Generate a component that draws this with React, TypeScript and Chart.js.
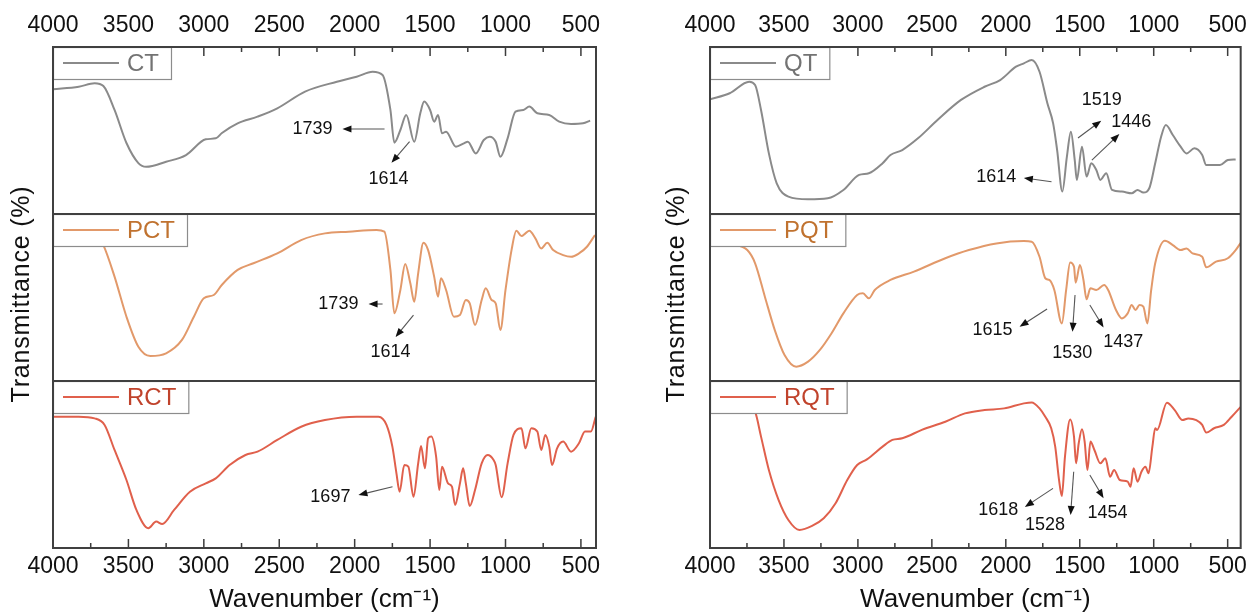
import React, { useEffect, useRef } from "react";
import { Chart, registerables } from "chart.js";

Chart.register(...registerables);

const FONT = '"Liberation Sans", Arial, Helvetica, sans-serif';

const xTickLabels = [4000, 3500, 3000, 2500, 2000, 1500, 1000, 500];
const xMinorTicks = [3750, 3250, 2750, 2250, 1750, 1250, 750];
const xAxisTitle = "Wavenumber (cm⁻¹)";
const yAxisTitle = "Transmittance (%)";

// ---- Left panel: CT / PCT / RCT ----
const ctWavenumbers = [4000, 3829, 3724, 3666, 3592, 3513, 3434, 3382, 3250, 3118, 2987, 2921, 2880, 2776, 2644, 2513, 2329, 2118, 1987, 1881, 1815, 1763, 1737, 1697, 1658, 1605, 1565, 1539, 1500, 1473, 1447, 1421, 1394, 1329, 1276, 1250, 1197, 1144, 1105, 1065, 1034, 986, 934, 881, 842, 789, 710, 644, 565, 486, 439];
const ctTransmittance = [74.7, 76.2, 78.3, 76.6, 62.3, 42.5, 30.5, 28.3, 31.3, 35.3, 44.7, 45.3, 48.5, 54.3, 58.3, 63.3, 73.3, 79.2, 82.2, 85.2, 83.2, 62.3, 42.7, 50.3, 59.3, 43.3, 60.3, 67.3, 62.3, 55.3, 59.3, 48.3, 49.3, 40.3, 42.3, 43.3, 36.3, 44.3, 46.3, 43.3, 34.3, 45.3, 61.3, 62.3, 64.3, 60.3, 59.3, 55.3, 53.9, 54.3, 55.9];

const pctWavenumbers = [4000, 3800, 3700, 3666, 3592, 3513, 3434, 3355, 3250, 3145, 3066, 3000, 2934, 2881, 2776, 2671, 2513, 2355, 2197, 2039, 1855, 1803, 1763, 1737, 1697, 1665, 1631, 1605, 1579, 1544, 1513, 1473, 1447, 1428, 1394, 1342, 1302, 1263, 1237, 1202, 1158, 1131, 1092, 1065, 1034, 1000, 960, 928, 894, 868, 842, 802, 763, 723, 684, 618, 565, 513, 460, 407];
const pctTransmittance = [90, 89, 86, 81.4, 62.5, 38.5, 20.5, 15.0, 16.6, 24.6, 38.5, 49.5, 51.5, 57.5, 66.5, 70.5, 76.4, 84.4, 88.4, 89.4, 90.4, 89.4, 66.5, 40.5, 54.5, 70.1, 58.5, 47.5, 64.5, 82.8, 78.4, 62.5, 50.5, 61.5, 54.5, 38.5, 39.5, 48.5, 46.5, 33.5, 48.5, 55.5, 48.5, 46.5, 30.5, 54.5, 78.4, 90.0, 86.8, 88.4, 90.0, 85.4, 79.4, 82.8, 78.4, 75.4, 74.4, 76.4, 80.4, 87.4];

const rctWavenumbers = [4000, 3829, 3724, 3658, 3592, 3513, 3447, 3368, 3316, 3276, 3197, 3092, 2987, 2921, 2829, 2724, 2644, 2513, 2355, 2197, 1987, 1842, 1789, 1750, 1723, 1702, 1671, 1644, 1610, 1579, 1560, 1534, 1513, 1492, 1460, 1439, 1421, 1381, 1355, 1334, 1302, 1281, 1263, 1237, 1202, 1158, 1118, 1079, 1065, 1026, 986, 947, 894, 868, 829, 789, 763, 736, 710, 692, 658, 618, 565, 513, 473, 434, 402];
const rctTransmittance = [78.6, 78.6, 77.6, 73.7, 58.7, 40.7, 22.8, 11.8, 15.8, 14.4, 22.8, 33.7, 38.7, 41.7, 49.7, 55.7, 57.7, 64.7, 72.6, 76.6, 78.6, 78.6, 73.7, 60.7, 44.7, 33.7, 49.7, 48.7, 30.7, 50.7, 61.1, 47.7, 65.7, 66.7, 54.7, 34.7, 48.7, 38.7, 36.7, 25.7, 38.7, 47.7, 38.7, 25.1, 34.7, 50.7, 55.7, 52.7, 49.7, 30.4, 50.7, 67.7, 71.7, 59.7, 71.7, 69.7, 58.7, 67.7, 60.7, 49.7, 59.7, 63.7, 57.7, 62.7, 69.7, 69.7, 78.6];

// ---- Right panel: QT / PQT / RQT ----
const qtWavenumbers = [4000, 3867, 3735, 3695, 3655, 3602, 3549, 3470, 3337, 3204, 3098, 2992, 2926, 2833, 2780, 2700, 2594, 2462, 2303, 2144, 2038, 1931, 1878, 1825, 1772, 1719, 1680, 1653, 1618, 1587, 1560, 1534, 1520, 1485, 1454, 1422, 1388, 1361, 1321, 1282, 1215, 1149, 1109, 1070, 1030, 990, 950, 918, 871, 818, 778, 725, 672, 645, 552, 499, 446];
const qtTransmittance = [68.7, 72.3, 79.2, 77.2, 62.3, 36.3, 18.4, 10.4, 8.8, 9.4, 14.4, 23.4, 24.4, 30.4, 35.3, 38.3, 45.3, 56.3, 68.3, 76.2, 80.2, 88.2, 90.2, 92.2, 85.2, 66.3, 54.3, 38.3, 13.4, 34.3, 49.3, 32.3, 20.4, 40.3, 22.4, 30.4, 26.3, 20.4, 24.4, 14.4, 13.4, 12.4, 14.4, 12.8, 15.4, 30.4, 46.3, 53.3, 47.3, 40.3, 36.3, 39.3, 35.3, 29.3, 29.3, 32.3, 32.7];

const pqtWavenumbers = [4000, 3841, 3748, 3695, 3629, 3562, 3496, 3417, 3337, 3257, 3178, 3098, 3005, 2966, 2926, 2886, 2780, 2621, 2409, 2250, 2064, 1878, 1825, 1772, 1733, 1706, 1672, 1621, 1592, 1565, 1539, 1528, 1499, 1475, 1454, 1428, 1388, 1335, 1308, 1255, 1215, 1176, 1149, 1123, 1096, 1070, 1043, 1017, 990, 924, 871, 818, 778, 738, 672, 645, 579, 499, 446, 407];
const pqtTransmittance = [82.4, 81.4, 78.4, 70.5, 50.5, 30.5, 15.6, 8.6, 11.6, 18.6, 28.6, 40.5, 51.5, 52.5, 49.5, 54.5, 60.5, 65.5, 73.5, 78.4, 82.4, 83.8, 83.4, 74.4, 61.5, 60.5, 54.5, 34.5, 54.5, 70.9, 68.5, 58.9, 69.5, 60.5, 48.9, 55.5, 54.5, 57.5, 54.5, 42.5, 37.5, 40.5, 45.5, 42.5, 45.5, 44.5, 34.5, 54.5, 70.5, 84.0, 81.4, 78.4, 79.4, 76.4, 74.4, 68.1, 71.5, 73.5, 78.4, 83.4];

const rqtWavenumbers = [4000, 3735, 3695, 3655, 3602, 3536, 3470, 3395, 3310, 3231, 3151, 3072, 3005, 2939, 2833, 2767, 2700, 2568, 2409, 2276, 2144, 2011, 1878, 1825, 1772, 1733, 1693, 1666, 1640, 1621, 1600, 1565, 1539, 1525, 1507, 1485, 1467, 1448, 1428, 1401, 1361, 1327, 1295, 1268, 1229, 1176, 1157, 1136, 1109, 1083, 1056, 1035, 1009, 990, 977, 911, 858, 806, 766, 712, 672, 645, 592, 526, 473, 407];
const rqtTransmittance = [85.6, 84.6, 81.6, 66.7, 46.7, 28.7, 16.8, 10.8, 13.2, 17.8, 26.8, 40.7, 49.7, 53.1, 60.7, 64.7, 65.7, 70.7, 75.6, 80.6, 82.6, 83.6, 86.6, 87.2, 83.6, 78.6, 71.7, 60.7, 40.7, 31.1, 54.7, 77.0, 66.7, 50.7, 62.7, 71.1, 63.7, 46.7, 63.7, 58.7, 50.7, 53.7, 42.7, 46.7, 40.7, 39.7, 36.7, 47.7, 39.7, 45.7, 48.7, 44.7, 60.7, 71.7, 70.7, 87.0, 82.6, 76.6, 77.6, 76.6, 73.7, 69.1, 71.7, 73.7, 78.6, 85.0];

// Peak notes: [label, labelWavenumber, labelValue, tailWavenumber, tailValue, headWavenumber, headValue]
type Note = [string, number, number, number, number, number, number];
const ctNotes: Note[] = [
  ["1739", 2280, 50.9, 1802, 50.9, 2081, 50.9],
  ["1614", 1776, 21, 1636, 43.3, 1756, 30.7],
];
const pctNotes: Note[] = [
  ["1739", 2108, 46.1, 1815, 46.1, 1908, 46.1],
  ["1614", 1762, 17.4, 1610, 39.5, 1729, 26.3],
];
const rctNotes: Note[] = [["1697", 2161, 30.7, 1749, 36.7, 1975, 31.7]];
const qtNotes: Note[] = [
  ["1614", 2064, 22.3, 1691, 19.3, 1878, 21.6],
  ["1519", 1352, 68.3, 1512, 45.5, 1355, 55.9],
  ["1446", 1152, 55.3, 1418, 32.3, 1232, 47.9],
];
const pqtNotes: Note[] = [
  ["1615", 2090, 30.5, 1721, 43.1, 1907, 32.5],
  ["1530", 1551, 16.8, 1532, 51.5, 1549, 29.5],
  ["1437", 1206, 23.5, 1432, 45.5, 1339, 32.1],
];
const rqtNotes: Note[] = [
  ["1618", 2051, 22.8, 1681, 35.7, 1871, 24.6],
  ["1528", 1735, 13.8, 1541, 45.7, 1562, 19.8],
  ["1454", 1312, 21.1, 1432, 43.7, 1339, 29.8],
];

const Y_IDS = ["yTop", "yMid", "yBot"];

interface PanelCfg {
  names: string[];
  wavenumbers: number[][];
  values: number[][];
  notes: Note[][];
  lineColors: string[];
  textColors: string[];
  xMin: number;
  yWidth: number;
  padRight: number;
  titleX: number;
  width: number;
}

const LINE_COLORS = ["#8a8a8a", "#e2996a", "#e0604c"];
const TEXT_COLORS = ["#737373", "#c0722f", "#c0432c"];

const leftCfg: PanelCfg = {
  names: ["CT", "PCT", "RCT"],
  wavenumbers: [ctWavenumbers, pctWavenumbers, rctWavenumbers],
  values: [ctTransmittance, pctTransmittance, rctTransmittance],
  notes: [ctNotes, pctNotes, rctNotes],
  lineColors: LINE_COLORS,
  textColors: TEXT_COLORS,
  xMin: 400,
  yWidth: 53,
  padRight: 31,
  titleX: 22,
  width: 627,
};

const rightCfg: PanelCfg = {
  names: ["QT", "PQT", "RQT"],
  wavenumbers: [qtWavenumbers, pqtWavenumbers, rqtWavenumbers],
  values: [qtTransmittance, pqtTransmittance, rqtTransmittance],
  notes: [qtNotes, pqtNotes, rqtNotes],
  lineColors: LINE_COLORS,
  textColors: TEXT_COLORS,
  xMin: 412,
  yWidth: 83,
  padRight: 6,
  titleX: 50,
  width: 628,
};

function decorPlugin(cfg: PanelCfg) {
  return {
    id: "decor",
    afterDraw(chart: any) {
      const ctx: CanvasRenderingContext2D = chart.ctx;
      const { left, right, top, bottom } = chart.chartArea;
      const xs = chart.scales.x;
      ctx.save();

      // inward ticks on top and bottom frame edges
      ctx.strokeStyle = "#3c3c3c";
      ctx.lineWidth = 1.5;
      const tick = (v: number, len: number) => {
        const px = xs.getPixelForValue(v);
        if (px < left - 1 || px > right + 1) return;
        ctx.beginPath();
        ctx.moveTo(px, top);
        ctx.lineTo(px, top + len);
        ctx.moveTo(px, bottom);
        ctx.lineTo(px, bottom - len);
        ctx.stroke();
      };
      xTickLabels.forEach((v) => tick(v, 9));
      xMinorTicks.forEach((v) => tick(v, 5));

      // legends (one per stacked subplot)
      ctx.font = `24px ${FONT}`;
      ctx.textBaseline = "middle";
      ctx.textAlign = "left";
      Y_IDS.forEach((id, i) => {
        const ys = chart.scales[id];
        const x0 = left;
        const y0 = ys.top;
        const h = 32;
        const tw = ctx.measureText(cfg.names[i]).width;
        const w = 74 + tw + 12;
        ctx.fillStyle = "#ffffff";
        ctx.fillRect(x0, y0, w, h);
        ctx.strokeStyle = "#8c8c8c";
        ctx.lineWidth = 1.2;
        ctx.strokeRect(x0 + 0.5, y0 + 0.5, w, h);
        ctx.strokeStyle = cfg.lineColors[i];
        ctx.lineWidth = 2;
        ctx.beginPath();
        ctx.moveTo(x0 + 10, y0 + h / 2);
        ctx.lineTo(x0 + 66, y0 + h / 2);
        ctx.stroke();
        ctx.fillStyle = cfg.textColors[i];
        ctx.fillText(cfg.names[i], x0 + 74, y0 + h / 2 + 1);
      });

      // frame and separators
      ctx.strokeStyle = "#404040";
      ctx.lineWidth = 2;
      ctx.strokeRect(left, top, right - left, bottom - top);
      ["yMid", "yBot"].forEach((id) => {
        const y = chart.scales[id].top;
        ctx.beginPath();
        ctx.moveTo(left, y);
        ctx.lineTo(right, y);
        ctx.stroke();
      });

      // peak annotations
      ctx.font = `18px ${FONT}`;
      ctx.textAlign = "center";
      ctx.textBaseline = "middle";
      cfg.notes.forEach((list, i) => {
        const ys = chart.scales[Y_IDS[i]];
        list.forEach(([text, lw, lv, tw, tv, hw, hv]) => {
          const x1 = xs.getPixelForValue(tw);
          const y1 = ys.getPixelForValue(tv);
          const x2 = xs.getPixelForValue(hw);
          const y2 = ys.getPixelForValue(hv);
          const a = Math.atan2(y2 - y1, x2 - x1);
          const c = Math.cos(a);
          const s = Math.sin(a);
          ctx.strokeStyle = "#555";
          ctx.lineWidth = 1.1;
          ctx.beginPath();
          ctx.moveTo(x1, y1);
          ctx.lineTo(x2 - 6 * c, y2 - 6 * s);
          ctx.stroke();
          ctx.fillStyle = "#111";
          ctx.beginPath();
          ctx.moveTo(x2, y2);
          ctx.lineTo(x2 - 9 * c - 3.5 * s, y2 - 9 * s + 3.5 * c);
          ctx.lineTo(x2 - 9 * c + 3.5 * s, y2 - 9 * s - 3.5 * c);
          ctx.closePath();
          ctx.fill();
          ctx.fillStyle = "#111";
          ctx.fillText(text, xs.getPixelForValue(lw), ys.getPixelForValue(lv));
        });
      });

      // y axis title
      ctx.save();
      ctx.translate(cfg.titleX, 294);
      ctx.rotate(-Math.PI / 2);
      ctx.font = `25px ${FONT}`;
      (ctx as any).letterSpacing = "0.8px";
      ctx.fillStyle = "#111";
      ctx.textAlign = "center";
      ctx.textBaseline = "middle";
      ctx.fillText(yAxisTitle, 0, 0);
      ctx.restore();

      ctx.restore();
    },
  };
}

function Panel({ cfg, left }: { cfg: PanelCfg; left: number }) {
  const ref = useRef<HTMLCanvasElement | null>(null);
  useEffect(() => {
    if (!ref.current) return;
    const datasets = cfg.names.map((name, i) => ({
      label: name,
      data: cfg.wavenumbers[i].map((w, j) => ({ x: w, y: cfg.values[i][j] })),
      borderColor: cfg.lineColors[i],
      backgroundColor: cfg.lineColors[i],
      borderWidth: 2,
      pointRadius: 0,
      cubicInterpolationMode: "monotone" as const,
      xAxisID: "x",
      yAxisID: Y_IDS[i],
    }));
    const xCommon = (position: "top" | "bottom", pad: number) => ({
      type: "linear" as const,
      position,
      min: cfg.xMin,
      max: 4000,
      reverse: true,
      afterBuildTicks: (s: any) => {
        s.ticks = xTickLabels.map((v) => ({ value: v }));
      },
      ticks: {
        callback: (v: any) => String(v),
        font: { family: FONT, size: 23 },
        color: "#111",
        padding: pad,
        maxRotation: 0,
        autoSkip: false,
      },
      grid: { display: false, drawTicks: false },
      border: { display: false },
    });
    const yCommon = () => ({
      type: "linear" as const,
      position: "left" as const,
      stack: "spectra",
      stackWeight: 1,
      min: 0,
      max: 100,
      ticks: { display: false },
      grid: { display: false, drawTicks: false },
      border: { display: false },
      afterFit: (s: any) => {
        s.width = cfg.yWidth;
      },
    });
    const chart = new Chart(ref.current, {
      type: "line",
      data: { datasets },
      options: {
        responsive: false,
        animation: false,
        events: [],
        layout: { padding: { left: 0, right: cfg.padRight, top: 0, bottom: 0 } },
        plugins: { legend: { display: false }, tooltip: { enabled: false } },
        scales: {
          x: {
            ...xCommon("bottom", 5),
            title: {
              display: true,
              text: xAxisTitle,
              font: { family: FONT, size: 26 },
              color: "#111",
              padding: { top: 0, bottom: 0 },
            },
            afterFit: (s: any) => {
              s.height = 67;
            },
          },
          xTop: {
            ...xCommon("top", 8),
            afterFit: (s: any) => {
              s.height = 47;
            },
          },
          yBot: yCommon(),
          yMid: yCommon(),
          yTop: yCommon(),
        } as any,
      },
      plugins: [decorPlugin(cfg)],
    });
    return () => chart.destroy();
  }, [cfg]);
  return (
    <canvas
      ref={ref}
      width={cfg.width}
      height={615}
      style={{ position: "absolute", left, top: 0, width: cfg.width, height: 615 }}
    />
  );
}

export default function App() {
  return (
    <div style={{ position: "absolute", left: 0, top: 0, width: 1255, height: 615, background: "#ffffff" }}>
      <Panel cfg={leftCfg} left={0} />
      <Panel cfg={rightCfg} left={627} />
    </div>
  );
}
